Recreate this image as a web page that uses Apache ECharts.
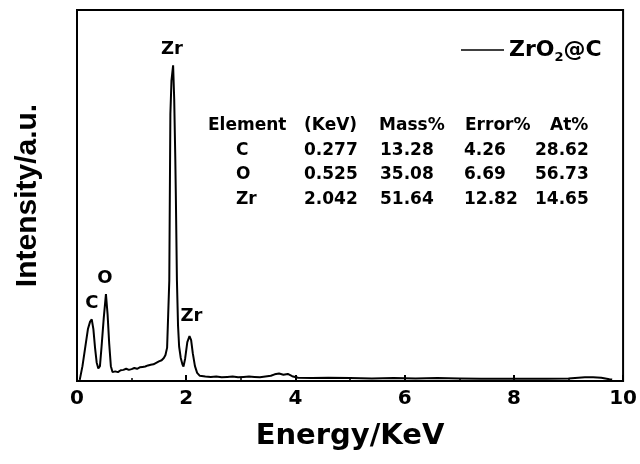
<!DOCTYPE html>
<html>
<head>
<meta charset="utf-8">
<script src="https://cdn.jsdelivr.net/npm/echarts@6.0.0/dist/echarts.min.js"></script>
<style>
  html, body { margin: 0; padding: 0; background: #fff; }
  #chart { width: 640px; height: 464px; }
</style>
</head>
<body>
<div id="chart"></div>
<script>
// EDS spectrum, ZrO2@C
const energy = [0.05, 0.10, 0.15, 0.20, 0.24, 0.27, 0.30, 0.33, 0.36, 0.39, 0.42, 0.45, 0.49, 0.53, 0.56, 0.59, 0.62,
  0.65, 0.70, 0.75, 0.80, 0.85, 0.90, 0.95, 1.00, 1.05, 1.10, 1.15, 1.20, 1.25, 1.30, 1.35, 1.40, 1.45, 1.50, 1.55,
  1.59, 1.62, 1.65, 1.67, 1.69, 1.70, 1.71, 1.73, 1.76, 1.78, 1.80, 1.81, 1.83, 1.85, 1.87, 1.90, 1.93, 1.95, 1.98,
  2.02, 2.06, 2.09, 2.12, 2.16, 2.20, 2.25, 2.35, 2.45, 2.55, 2.65, 2.75, 2.85, 2.95, 3.05, 3.15, 3.25, 3.35, 3.45,
  3.55, 3.62, 3.70, 3.78, 3.86, 3.94, 4.05, 4.3, 4.6, 5.0, 5.4, 5.8, 6.2, 6.6, 7.0, 7.4, 7.8, 8.2, 8.6, 9.0, 9.3,
  9.45, 9.6, 9.75, 9.8];
const intensity = [0.3, 4, 9, 14, 16, 16.6, 14, 9, 5, 3.4, 4, 9.3, 17, 23.4, 18, 10, 4,
  2.4, 2.6, 2.4, 2.9, 3.0, 3.3, 3.0, 3.2, 3.5, 3.3, 3.7, 3.8, 3.9, 4.2, 4.4, 4.5, 4.9, 5.3, 5.6,
  6.2, 7.0, 9.0, 18, 27, 50, 72, 81, 85.1, 76, 60, 50, 27, 15, 9.3, 6.2, 4.5, 3.9, 6,
  10.5, 12.1, 11, 7.5, 4, 2.2, 1.4, 1.2, 1.1, 1.2, 1.0, 1.1, 1.2, 1.0, 1.1, 1.2, 1.1, 1.0, 1.2,
  1.4, 1.8, 2.0, 1.7, 1.9, 1.3, 0.9, 0.8, 0.9, 0.8, 0.7, 0.8, 0.7, 0.8, 0.7, 0.6, 0.6, 0.6, 0.6, 0.7, 1.0,
  1.0, 0.9, 0.5, 0.4];

// peak labels
const peakNames = ["Zr", "C", "O", "Zr"];
const peakX = [1.74, 0.27, 0.51, 2.095];
const peakY = [89.5, 21.0, 27.7, 17.5];

// composition table
const tableHeader = ["Element", "(KeV)", "Mass%", "Error%", "At%"];
const tableElements = ["C", "O", "Zr"];
const tableKeV = ["0.277", "0.525", "2.042"];
const tableMass = ["13.28", "35.08", "51.64"];
const tableError = ["4.26", "6.69", "12.82"];
const tableAt = ["28.62", "56.73", "14.65"];

const xTicks = [0, 2, 4, 6, 8, 10];

const bold = "DejaVu Sans";
const headerX = [208, 304, 379, 465, 550];
const cellX = [236, 304, 380, 464, 535];
const rowY = [151, 175, 200];

const tableTexts = [];
tableHeader.forEach((h, i) => {
  tableTexts.push({
    type: "text",
    style: { text: h, x: headerX[i], y: 126, fontFamily: bold, fontSize: 17, fontWeight: "bold", fill: "#000", verticalAlign: "middle" },
  });
});
const cols = [tableElements, tableKeV, tableMass, tableError, tableAt];
cols.forEach((col, c) => {
  col.forEach((v, r) => {
    tableTexts.push({
      type: "text",
      style: { text: v, x: cellX[c], y: rowY[r], fontFamily: bold, fontSize: 17, fontWeight: "bold", fill: "#000", verticalAlign: "middle" },
    });
  });
});

const chart = echarts.init(document.getElementById("chart"), null, { renderer: "canvas" });
chart.setOption({
  animation: false,
  backgroundColor: "#fff",
  grid: { left: 77, right: 15, top: 10, bottom: 83, show: true, borderColor: "#000", borderWidth: 2 },
  legend: {
    data: ["ZrO2@C"],
    left: 456,
    top: 34,
    icon: "rect",
    itemWidth: 43,
    itemHeight: 1.5,
    itemGap: 4,
    itemStyle: { color: "#000" },
    formatter: () => "{a|ZrO}{b|2}{a|@C}",
    textStyle: {
      rich: {
        a: { fontFamily: bold, fontSize: 22, fontWeight: "bold", color: "#000" },
        b: { fontFamily: bold, fontSize: 13, fontWeight: "bold", color: "#000", padding: [16, 0, 0, 0] },
      },
    },
  },
  xAxis: {
    type: "value",
    min: 0,
    max: 10,
    interval: 2,
    name: "Energy/KeV",
    nameLocation: "middle",
    nameGap: 41,
    nameTextStyle: { fontFamily: bold, fontSize: 29, fontWeight: "bold", color: "#000" },
    axisLine: { lineStyle: { color: "#000", width: 2 } },
    axisTick: { inside: true, length: 6, lineStyle: { color: "#000", width: 2 } },
    minorTick: { show: true, splitNumber: 2, length: 3, lineStyle: { color: "#000", width: 1.5 } },
    axisLabel: {
      margin: 8,
      fontFamily: bold,
      fontSize: 20,
      fontWeight: "bold",
      color: "#000",
      formatter: (v) => (xTicks.includes(v) ? String(v) : ""),
    },
    splitLine: { show: false },
  },
  yAxis: {
    type: "value",
    min: 0,
    max: 100,
    name: "Intensity/a.u.",
    nameLocation: "middle",
    nameGap: 34,
    nameTextStyle: { fontFamily: "Liberation Sans", fontSize: 30, fontWeight: "bold", color: "#000" },
    axisLine: { lineStyle: { color: "#000", width: 2 } },
    axisTick: { show: false },
    axisLabel: { show: false },
    splitLine: { show: false },
  },
  series: [
    {
      name: "ZrO2@C",
      type: "line",
      symbol: "none",
      lineStyle: { color: "#000", width: 2 },
      itemStyle: { color: "#000" },
      data: energy.map((e, i) => [e, intensity[i]]),
    },
    {
      name: "peaks",
      type: "scatter",
      symbolSize: 0,
      silent: true,
      itemStyle: { opacity: 1, color: "#000" },
      label: {
        show: true,
        position: "inside",
        fontFamily: bold,
        fontSize: 18,
        fontWeight: "bold",
        color: "#000",
        opacity: 1,
        formatter: (p) => p.data[2],
      },
      data: peakNames.map((n, i) => [peakX[i], peakY[i], n]),
    },
  ],
  graphic: tableTexts,
});
</script>
</body>
</html>
